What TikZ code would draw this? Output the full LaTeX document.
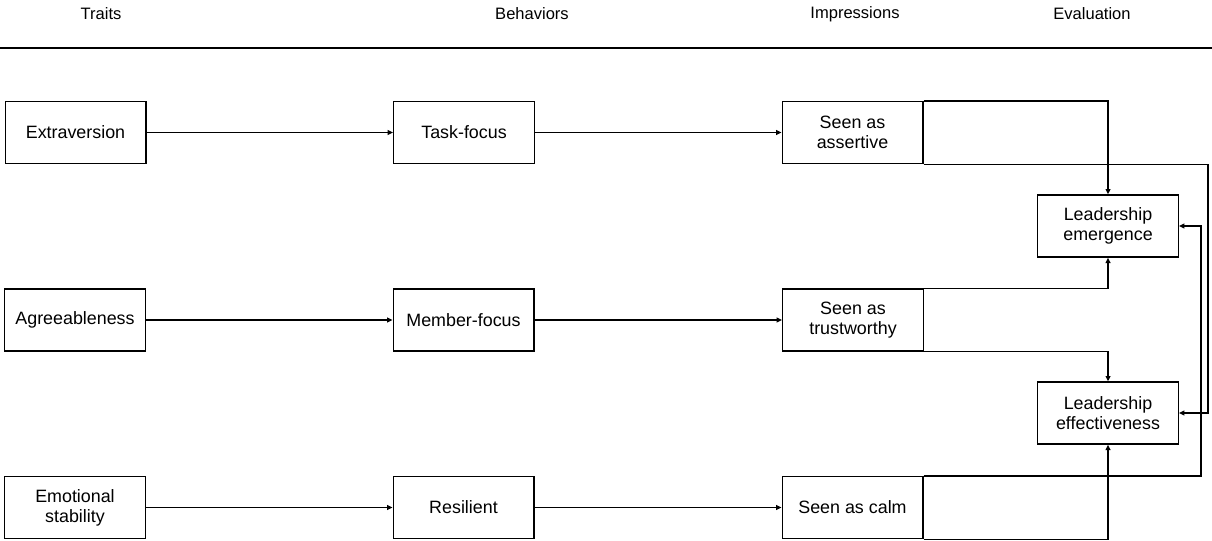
\documentclass[tikz,border=0pt]{standalone}
\usepackage{fontspec}
\setmainfont{Liberation Sans}
\usetikzlibrary{arrows.meta}
\begin{document}
\begin{tikzpicture}[x=0.75pt,y=-0.75pt,
  box/.style={draw, line width=1pt, minimum width=105.5pt, minimum height=46.5pt,
    inner sep=0pt, align=center, font=\fontsize{13.4}{15}\selectfont},
  head/.style={font=\fontsize{12.4}{14}\selectfont, inner sep=0pt},
  link/.style={line width=1pt},
  arr/.style={link, -{Triangle[length=4pt, width=3.6pt]}}]
\useasboundingbox (0,0) rectangle (1212,540);

% column headings and rule
\node[head] (hT) at (101,14) {Traits};
\node[head] (hB) at (532,14) {Behaviors};
\node[head] (hI) at (855,14) {Impressions};
\node[head] (hE) at (1092,14) {Evaluation};
\coordinate (ruleL) at (0,48);
\coordinate (ruleR) at (1212,48);
\draw[line width=1.8pt] (ruleL) -- (ruleR);

% traits
\node[box] (ext) at (75.5,132.5) {Extraversion};
\node[box] (agr) at (75,320) {Agreeableness};
\node[box] (emo) at (75,507.5) {Emotional\\stability};

% behaviors
\node[box] (task) at (464,132.5) {Task-focus};
\node[box] (mem) at (463.5,320) {Member-focus};
\node[box] (res) at (463.5,507.5) {Resilient};

% impressions
\node[box] (ass) at (852.5,132.5) {Seen as\\assertive};
\node[box] (tru) at (853,320) {Seen as\\trustworthy};
\node[box] (calm) at (852.5,507.5) {Seen as calm};

% evaluation
\node[box] (emg) at (1108,226) {Leadership\\emergence};
\node[box] (eff) at (1108,413) {Leadership\\effectiveness};

% trait -> behavior -> impression
\draw[arr] (ext) -- (task);
\draw[arr] (task) -- (ass);
\draw[arr] (agr) -- (mem);
\draw[arr] (mem) -- (tru);
\draw[arr] (emo) -- (res);
\draw[arr] (res) -- (calm);

% impressions -> evaluation
\coordinate (railA) at (1208,0);
\coordinate (railB) at (1201,0);
\draw[arr] (ass.north east) -| (emg.north);
\draw[arr] (ass.south east) -- (ass.south east -| railA) |- (eff.east);
\draw[arr] (tru.north east) -| (emg.south);
\draw[arr] (tru.south east) -| (eff.north);
\draw[arr] (calm.north east) -- (calm.north east -| railB) |- (emg.east);
\draw[arr] (calm.south east) -| (eff.south);
\end{tikzpicture}
\end{document}
